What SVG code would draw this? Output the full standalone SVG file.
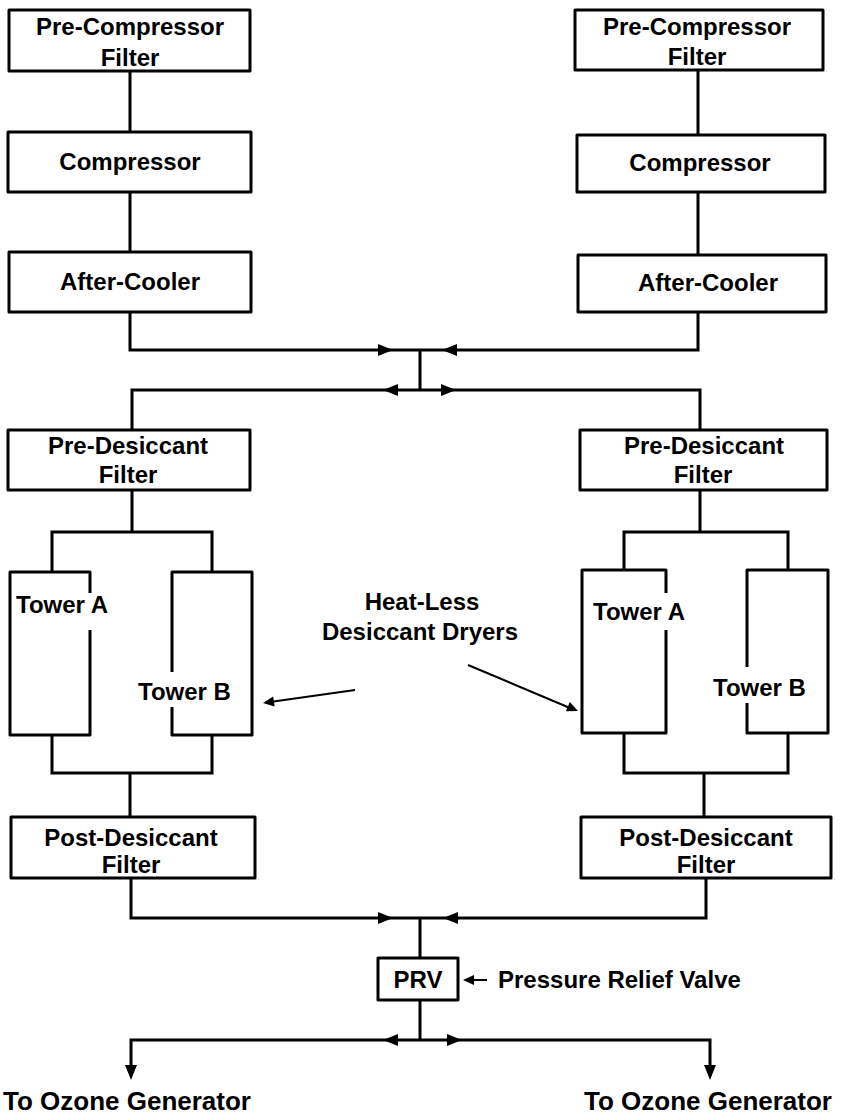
<svg xmlns="http://www.w3.org/2000/svg" xmlns:xlink="http://www.w3.org/1999/xlink" width="853" height="1120" viewBox="0 0 853 1120">
<style>
.box{fill:none;stroke:#000;stroke-width:3;stroke-linejoin:round}
.ln{fill:none;stroke:#000;stroke-width:3}
.thin{fill:none;stroke:#000;stroke-width:2}
text{font-family:"Liberation Sans",Arial,sans-serif;font-weight:bold;font-size:24px;fill:#000}
.c{text-anchor:middle}
.big{font-size:26px}
</style>
<defs>
<path id="ah" d="M0,0 L-15,-6 L-15,6 Z" fill="#000"/>
<path id="ahs" d="M0,0 L-11,-5 L-11,5 Z" fill="#000"/>
</defs>
<rect width="853" height="1120" fill="#fff"/>
<g id="n-precomp-l"><rect class="box" x="9" y="10" width="241" height="61"/><text class="c" x="130" y="35">Pre-Compressor</text><text class="c" x="130" y="66">Filter</text></g>
<g id="n-comp-l"><rect class="box" x="8" y="132" width="243" height="60"/><text class="c" x="130" y="170">Compressor</text></g>
<g id="n-after-l"><rect class="box" x="9" y="252" width="242" height="60"/><text class="c" x="130" y="290">After-Cooler</text></g>
<g id="n-precomp-r"><rect class="box" x="575" y="10" width="248" height="60"/><text class="c" x="697" y="35">Pre-Compressor</text><text class="c" x="697" y="65">Filter</text></g>
<g id="n-comp-r"><rect class="box" x="577" y="135" width="248" height="57"/><text class="c" x="700" y="171">Compressor</text></g>
<g id="n-after-r"><rect class="box" x="578" y="255" width="248" height="57"/><text class="c" x="708" y="291">After-Cooler</text></g>
<g id="n-predes-l"><rect class="box" x="8" y="430" width="242" height="60"/><text class="c" x="128" y="454">Pre-Desiccant</text><text class="c" x="128" y="483">Filter</text></g>
<g id="n-predes-r"><rect class="box" x="580" y="430" width="247" height="60"/><text class="c" x="704" y="454">Pre-Desiccant</text><text class="c" x="703" y="483">Filter</text></g>
<g id="n-towerA-l"><path class="box" d="M90,593 V572 H10 V735 H90 V630"/><text x="16" y="613">Tower A</text></g>
<g id="n-towerB-l"><path class="box" d="M172,672 V572 H252 V735 H172 V707"/><text x="138" y="700">Tower B</text></g>
<g id="n-towerA-r"><path class="box" d="M666,593 V570 H582 V733 H666 V630"/><text x="593" y="620">Tower A</text></g>
<g id="n-towerB-r"><path class="box" d="M747,667 V570 H828 V733 H747 V703"/><text x="713" y="696">Tower B</text></g>
<g id="n-postdes-l"><rect class="box" x="11" y="817" width="244" height="61"/><text class="c" x="131" y="846">Post-Desiccant</text><text class="c" x="131" y="873">Filter</text></g>
<g id="n-postdes-r"><rect class="box" x="581" y="817" width="250" height="61"/><text class="c" x="706" y="846">Post-Desiccant</text><text class="c" x="706" y="873">Filter</text></g>
<g id="n-prv"><rect class="box" x="378" y="958" width="80" height="42"/><text class="c" x="418" y="988">PRV</text></g>
<g id="n-heatless"><text class="c" x="422" y="610">Heat-Less</text><text class="c" x="420" y="640">Desiccant Dryers</text></g>
<g id="n-prv-label"><text x="498" y="988">Pressure Relief Valve</text></g>
<g id="n-out-l"><text class="big" x="3" y="1110">To Ozone Generator</text></g>
<g id="n-out-r"><text class="big" x="584" y="1110">To Ozone Generator</text></g>
<g id="connectors">
<path class="ln" d="M130,71 V132 M130,192 V252 M130,312 V350 H698 V312 M698,70 V135 M698,192 V255"/>
<path class="ln" d="M420,350 V390 M132,430 V390 H700 V430"/>
<path class="ln" d="M132,490 V532 M52,572 V532 H212 V572 M700,490 V532 M624,570 V532 H788 V570"/>
<path class="ln" d="M52,735 V773 H212 V735 M130,773 V817 M624,733 V773 H788 V733 M704,773 V817"/>
<path class="ln" d="M131,878 V918 H706 V878 M420,918 V958 M420,1000 V1040"/>
<path class="ln" d="M131,1070 V1040 H710 V1070"/>
<path class="thin" d="M487,980 H470"/>
<path class="thin" d="M355,690 L270,702 M468,665 L570,708"/>
<use xlink:href="#ah" transform="translate(393,350)"/>
<use xlink:href="#ah" transform="translate(442,350) rotate(180)"/>
<use xlink:href="#ah" transform="translate(383,390) rotate(180)"/>
<use xlink:href="#ah" transform="translate(456,390)"/>
<use xlink:href="#ah" transform="translate(393,918)"/>
<use xlink:href="#ah" transform="translate(443,918) rotate(180)"/>
<use xlink:href="#ah" transform="translate(383,1040) rotate(180)"/>
<use xlink:href="#ah" transform="translate(462,1040)"/>
<use xlink:href="#ah" transform="translate(131,1080) rotate(90)"/>
<use xlink:href="#ah" transform="translate(710,1080) rotate(90)"/>
<use xlink:href="#ahs" transform="translate(463,980) rotate(180)"/>
<use xlink:href="#ahs" transform="translate(263,703) rotate(171.9)"/>
<use xlink:href="#ahs" transform="translate(578,711) rotate(22.9)"/>
</g>
</svg>
